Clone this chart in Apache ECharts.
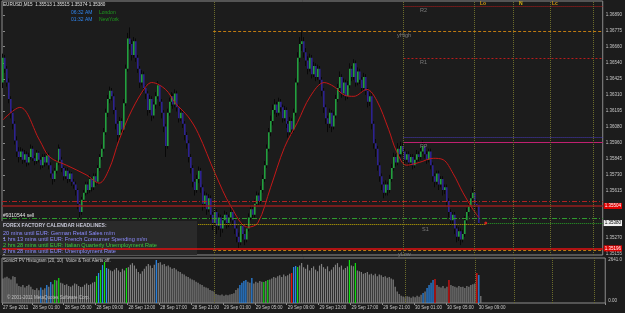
<!DOCTYPE html>
<html>
<head>
<meta charset="utf-8">
<script src="https://cdn.jsdelivr.net/npm/echarts@6/dist/echarts.min.js"></script>
<style>
html, body { margin: 0; padding: 0; background: #1c1c1c; }
#chart { width: 625px; height: 313px; }
</style>
</head>
<body>
<div id="chart"></div>
<script>
// EURUSD M15 candles: [open, close, low, high]
const candles = [
  [1.3640,1.3658,1.3636,1.3661],[1.3658,1.3650,1.3647,1.3660],[1.3650,1.3640,1.3637,1.3652],[1.3640,1.3628,1.3625,1.3643],
  [1.3628,1.3618,1.3614,1.3630],[1.3618,1.3610,1.3606,1.3621],[1.3610,1.3598,1.3595,1.3612],[1.3598,1.3590,1.3586,1.3601],
  [1.3590,1.3586,1.3582,1.3593],[1.3586,1.3590,1.3584,1.3593],[1.3590,1.3584,1.3581,1.3592],[1.3584,1.3588,1.3582,1.3591],
  [1.3588,1.3582,1.3579,1.3590],[1.3582,1.3586,1.3580,1.3589],[1.3586,1.3592,1.3584,1.3595],[1.3592,1.3585,1.3583,1.3594],
  [1.3585,1.3583,1.3580,1.3587],[1.3583,1.3589,1.3581,1.3591],[1.3589,1.3584,1.3582,1.3590],[1.3584,1.3580,1.3577,1.3586],
  [1.3580,1.3586,1.3578,1.3588],[1.3586,1.3582,1.3579,1.3588],[1.3582,1.3587,1.3580,1.3590],[1.3587,1.3580,1.3577,1.3589],
  [1.3580,1.3574,1.3571,1.3582],[1.3574,1.3570,1.3566,1.3576],[1.3570,1.3576,1.3568,1.3578],[1.3576,1.3582,1.3574,1.3584],
  [1.3582,1.3592,1.3580,1.3595],[1.3592,1.3584,1.3582,1.3593],[1.3584,1.3578,1.3575,1.3586],[1.3578,1.3572,1.3569,1.3579],
  [1.3572,1.3576,1.3570,1.3578],[1.3576,1.3570,1.3567,1.3578],[1.3570,1.3574,1.3568,1.3576],[1.3574,1.3568,1.3565,1.3575],
  [1.3568,1.3566,1.3563,1.3570],[1.3566,1.3562,1.3558,1.3568],[1.3562,1.3552,1.3548,1.3563],[1.3552,1.3546,1.3542,1.3554],
  [1.3546,1.3555,1.3544,1.3557],[1.3555,1.3560,1.3553,1.3562],[1.3560,1.3566,1.3558,1.3568],[1.3566,1.3562,1.3559,1.3568],
  [1.3562,1.3570,1.3560,1.3573],[1.3570,1.3564,1.3561,1.3571],[1.3564,1.3572,1.3562,1.3574],[1.3572,1.3568,1.3565,1.3574],
  [1.3568,1.3578,1.3566,1.3580],[1.3578,1.3586,1.3576,1.3588],[1.3586,1.3592,1.3584,1.3595],[1.3592,1.3604,1.3590,1.3607],
  [1.3604,1.3618,1.3602,1.3621],[1.3618,1.3628,1.3615,1.3631],[1.3628,1.3634,1.3625,1.3637],[1.3634,1.3630,1.3627,1.3636],
  [1.3630,1.3620,1.3617,1.3632],[1.3620,1.3610,1.3606,1.3622],[1.3610,1.3602,1.3597,1.3612],[1.3602,1.3612,1.3600,1.3615],
  [1.3612,1.3606,1.3603,1.3614],[1.3606,1.3625,1.3604,1.3628],[1.3625,1.3650,1.3623,1.3653],[1.3650,1.3672,1.3648,1.3676],
  [1.3672,1.3668,1.3664,1.3680],[1.3668,1.3660,1.3656,1.3671],[1.3660,1.3670,1.3658,1.3673],[1.3670,1.3658,1.3655,1.3672],
  [1.3658,1.3650,1.3647,1.3660],[1.3650,1.3640,1.3636,1.3652],[1.3640,1.3646,1.3638,1.3649],[1.3646,1.3636,1.3633,1.3648],
  [1.3636,1.3632,1.3628,1.3638],[1.3632,1.3620,1.3616,1.3634],[1.3620,1.3628,1.3618,1.3631],[1.3628,1.3616,1.3612,1.3630],
  [1.3616,1.3624,1.3614,1.3626],[1.3624,1.3630,1.3621,1.3633],[1.3630,1.3638,1.3628,1.3641],[1.3638,1.3626,1.3623,1.3639],
  [1.3626,1.3618,1.3614,1.3628],[1.3618,1.3608,1.3604,1.3620],[1.3608,1.3594,1.3586,1.3610],[1.3594,1.3618,1.3592,1.3621],
  [1.3618,1.3626,1.3616,1.3629],[1.3626,1.3630,1.3623,1.3633],[1.3630,1.3624,1.3621,1.3632],[1.3624,1.3632,1.3622,1.3635],
  [1.3632,1.3622,1.3619,1.3634],[1.3622,1.3614,1.3611,1.3624],[1.3614,1.3618,1.3612,1.3621],[1.3618,1.3610,1.3607,1.3620],
  [1.3610,1.3602,1.3598,1.3612],[1.3602,1.3596,1.3592,1.3604],[1.3596,1.3586,1.3582,1.3598],[1.3586,1.3578,1.3574,1.3588],
  [1.3578,1.3568,1.3564,1.3580],[1.3568,1.3562,1.3558,1.3570],[1.3562,1.3570,1.3560,1.3573],[1.3570,1.3576,1.3567,1.3579],
  [1.3576,1.3564,1.3560,1.3578],[1.3564,1.3552,1.3547,1.3566],[1.3552,1.3558,1.3549,1.3561],[1.3558,1.3548,1.3544,1.3560],
  [1.3548,1.3556,1.3546,1.3559],[1.3556,1.3544,1.3540,1.3558],[1.3544,1.3538,1.3533,1.3546],[1.3538,1.3546,1.3536,1.3549],
  [1.3546,1.3536,1.3530,1.3548],[1.3536,1.3542,1.3533,1.3545],[1.3542,1.3534,1.3528,1.3544],[1.3534,1.3540,1.3531,1.3543],
  [1.3540,1.3544,1.3537,1.3547],[1.3544,1.3538,1.3534,1.3546],[1.3538,1.3542,1.3535,1.3544],[1.3542,1.3546,1.3539,1.3549],
  [1.3546,1.3540,1.3536,1.3548],[1.3540,1.3534,1.3530,1.3542],[1.3534,1.3528,1.3524,1.3536],[1.3528,1.3524,1.3520,1.3531],
  [1.3524,1.3536,1.3522,1.3538],[1.3536,1.3530,1.3526,1.3538],[1.3530,1.3526,1.3522,1.3532],[1.3526,1.3534,1.3524,1.3537],
  [1.3534,1.3542,1.3532,1.3545],[1.3542,1.3548,1.3540,1.3551],[1.3548,1.3544,1.3541,1.3550],[1.3544,1.3552,1.3542,1.3555],
  [1.3552,1.3558,1.3550,1.3561],[1.3558,1.3554,1.3551,1.3560],[1.3554,1.3562,1.3552,1.3565],[1.3562,1.3570,1.3560,1.3573],
  [1.3570,1.3580,1.3568,1.3583],[1.3580,1.3592,1.3578,1.3595],[1.3592,1.3604,1.3590,1.3607],[1.3604,1.3612,1.3601,1.3616],
  [1.3612,1.3620,1.3609,1.3624],[1.3620,1.3624,1.3617,1.3628],[1.3624,1.3618,1.3615,1.3626],[1.3618,1.3626,1.3616,1.3629],
  [1.3626,1.3622,1.3619,1.3628],[1.3622,1.3614,1.3611,1.3624],[1.3614,1.3620,1.3612,1.3623],[1.3620,1.3610,1.3607,1.3622],
  [1.3610,1.3604,1.3600,1.3612],[1.3604,1.3612,1.3602,1.3615],[1.3612,1.3606,1.3602,1.3614],[1.3606,1.3618,1.3604,1.3621],
  [1.3618,1.3640,1.3616,1.3643],[1.3640,1.3658,1.3638,1.3662],[1.3658,1.3668,1.3655,1.3673],[1.3668,1.3670,1.3663,1.3678],
  [1.3670,1.3662,1.3658,1.3673],[1.3662,1.3656,1.3652,1.3665],[1.3656,1.3650,1.3646,1.3659],[1.3650,1.3658,1.3648,1.3661],
  [1.3658,1.3646,1.3643,1.3660],[1.3646,1.3652,1.3644,1.3655],[1.3652,1.3644,1.3641,1.3654],[1.3644,1.3650,1.3642,1.3653],
  [1.3650,1.3642,1.3639,1.3652],[1.3642,1.3634,1.3630,1.3644],[1.3634,1.3622,1.3618,1.3636],[1.3622,1.3614,1.3610,1.3624],
  [1.3614,1.3610,1.3604,1.3616],[1.3610,1.3618,1.3607,1.3621],[1.3618,1.3608,1.3604,1.3620],[1.3608,1.3616,1.3606,1.3619],
  [1.3616,1.3628,1.3614,1.3631],[1.3628,1.3636,1.3626,1.3639],[1.3636,1.3644,1.3633,1.3648],[1.3644,1.3632,1.3629,1.3646],
  [1.3632,1.3640,1.3630,1.3643],[1.3640,1.3630,1.3627,1.3642],[1.3630,1.3638,1.3628,1.3641],[1.3638,1.3650,1.3636,1.3654],
  [1.3650,1.3644,1.3641,1.3652],[1.3644,1.3654,1.3642,1.3657],[1.3654,1.3640,1.3637,1.3656],[1.3640,1.3648,1.3638,1.3651],
  [1.3648,1.3642,1.3639,1.3650],[1.3642,1.3636,1.3633,1.3644],[1.3636,1.3644,1.3634,1.3647],[1.3644,1.3634,1.3631,1.3646],
  [1.3634,1.3626,1.3622,1.3636],[1.3626,1.3630,1.3623,1.3633],[1.3630,1.3610,1.3606,1.3632],[1.3610,1.3596,1.3592,1.3612],
  [1.3596,1.3592,1.3586,1.3599],[1.3592,1.3580,1.3576,1.3594],[1.3580,1.3572,1.3568,1.3582],[1.3572,1.3566,1.3562,1.3574],
  [1.3566,1.3560,1.3556,1.3568],[1.3560,1.3566,1.3558,1.3569],[1.3566,1.3562,1.3558,1.3568],[1.3562,1.3570,1.3560,1.3573],
  [1.3570,1.3578,1.3568,1.3581],[1.3578,1.3586,1.3576,1.3589],[1.3586,1.3582,1.3579,1.3588],[1.3582,1.3592,1.3580,1.3596],
  [1.3592,1.3588,1.3585,1.3594],[1.3588,1.3594,1.3586,1.3597],[1.3594,1.3590,1.3587,1.3596],[1.3590,1.3584,1.3581,1.3592],
  [1.3584,1.3588,1.3582,1.3590],[1.3588,1.3582,1.3579,1.3590],[1.3582,1.3586,1.3580,1.3588],[1.3586,1.3580,1.3577,1.3588],
  [1.3580,1.3584,1.3578,1.3587],[1.3584,1.3588,1.3582,1.3591],[1.3588,1.3586,1.3583,1.3590],[1.3586,1.3590,1.3584,1.3593],
  [1.3590,1.3594,1.3588,1.3598],[1.3594,1.3588,1.3585,1.3596],[1.3588,1.3584,1.3581,1.3590],[1.3584,1.3590,1.3582,1.3592],
  [1.3590,1.3580,1.3577,1.3592],[1.3580,1.3572,1.3568,1.3582],[1.3572,1.3568,1.3564,1.3574],[1.3568,1.3574,1.3566,1.3576],
  [1.3574,1.3566,1.3562,1.3576],[1.3566,1.3570,1.3564,1.3572],[1.3570,1.3562,1.3558,1.3572],[1.3562,1.3564,1.3559,1.3566],
  [1.3564,1.3554,1.3550,1.3566],[1.3554,1.3546,1.3542,1.3556],[1.3546,1.3540,1.3536,1.3548],[1.3540,1.3544,1.3537,1.3546],
  [1.3544,1.3534,1.3530,1.3546],[1.3534,1.3528,1.3524,1.3536],[1.3528,1.3532,1.3525,1.3535],[1.3532,1.3526,1.3522,1.3534],
  [1.3526,1.3530,1.3524,1.3533],[1.3530,1.3540,1.3528,1.3543],[1.3540,1.3546,1.3538,1.3549],[1.3546,1.3550,1.3543,1.3554],
  [1.3550,1.3556,1.3548,1.3560],[1.3556,1.3560,1.3554,1.3564],[1.3560,1.3552,1.3549,1.3562],[1.3552,1.3551,1.3547,1.3555],
  [1.35513,1.35380,1.35374,1.35515]
];

// 移動平均線（赤）: [bar, price]
const maPoints = [
  [0,1.3613],[8.5,1.3622],[18.5,1.3598],[23.5,1.3586],[32,1.3580],[42,1.3573],[48.5,1.3567],[53.5,1.3577],
  [58.5,1.3598],[65,1.3620],[72,1.3637],[75,1.3640],[82,1.3635],[87,1.3625],[93.5,1.3615],[98.5,1.3603],
  [107,1.3574],[115,1.3550],[123.5,1.3535],[128.5,1.3538],[135,1.3564],[142,1.3593],[148.5,1.3611],[155,1.3630],
  [162,1.3640],[167,1.3637],[172,1.3631],[177,1.3630],[183.5,1.3635],[188.5,1.3627],[194.5,1.3606],[198.5,1.3590],
  [203.5,1.3580],[210,1.3582],[217,1.3585],[222,1.3584],[227,1.3574],[232,1.3560],[237,1.3548],[240,1.3542]
];

// SonicR PV Histogram
const histValues = [
  1500,1560,1620,1520,1450,1650,1600,1200,1050,1000,
  1100,950,1050,1120,1000,850,800,900,780,950,
  820,900,1100,1000,1290,1150,1410,1380,1535,1250,
  1200,1100,1150,1050,1000,1080,1200,1150,1050,980,
  1000,1120,1200,1100,1150,1250,1300,1660,1840,2025,
  2330,2520,2150,2100,2000,1950,2050,2150,2000,1900,
  2100,2000,2150,2200,2350,2450,2300,2100,1900,1800,
  1950,2100,2250,2400,2300,2150,2350,2641,2450,2500,
  2350,2400,2250,2300,2200,2100,2150,2050,1950,1900,
  1800,1750,1650,1600,1500,1450,1400,1300,1250,1150,
  1100,1000,950,900,800,750,700,550,500,480,
  520,450,500,470,520,560,600,800,900,1100,
  1250,1350,1410,1300,1250,1535,1200,1300,1250,1350,
  1300,1290,1350,1410,1450,1500,1600,1550,1650,1700,
  1600,1750,1650,1700,1800,1840,2210,2270,2210,2300,
  2450,2200,2100,2350,2000,2150,2250,2050,1950,2300,
  2400,2200,2100,2250,1950,2050,2200,2350,2450,2200,
  2300,2050,2150,2250,2641,2300,2250,2456,2000,1950,
  1900,1800,1850,1900,1750,1800,1700,1800,1650,1750,
  1700,1600,1650,1550,1600,1500,1450,1000,700,550,
  450,400,350,420,380,320,400,350,450,380,
  500,614,700,920,1100,1250,1410,1470,1100,1000,
  950,1050,900,1000,1410,1100,1050,1000,950,1050,
  980,1000,920,1050,1000,1100,1150,1200,1840,1720,
  430
];
const blueBars = [19,22,24,48,50,52,77,119,120,121,122,125,146,147,211,213,214,215,216,239];
const greenBars = [26,28,47,49,51,62,131,133,148,174,177];
const redBars = [145,217,224,238];

// 価格軸・時間軸の目盛り
const priceTicks = [1.36890,1.36775,1.36660,1.36540,1.36425,1.36310,1.36195,1.36080,1.35960,1.35845,1.35730,1.35615,1.35270,1.35155];
const histTicks = [0, 2641];
const timeLabels = ['27 Sep 2011','28 Sep 01:00','28 Sep 05:00','28 Sep 09:00','28 Sep 13:00','28 Sep 17:00','28 Sep 21:00',
  '29 Sep 01:00','29 Sep 05:00','29 Sep 09:00','29 Sep 13:00','29 Sep 17:00','29 Sep 21:00','30 Sep 01:00','30 Sep 05:00','30 Sep 09:00'];
const timeLabelBars = [0,15,31,47,63,79,95,111,127,143,159,175,191,207,223,239];

// 水平ライン
const levelR2 = 1.36952;
const levelYHigh = 1.36775;
const levelR1 = 1.36578;
const levelPPBand = 1.36002;
const levelPP = 1.35969;
const levelRedDash = 1.35541;
const orderPrice = 1.35504;
const levelGreenDash = 1.35417;
const levelS1 = 1.35374;
const bidPrice = 1.35380;
const levelRedLow = 1.35196;
const levelYLow = 1.35181;
// 縦ライン（日付・セッション）
const sessionBars = [106.5, 202, 237.5, 257.5, 276, 297.5];

const barCount = 303;
const lastX = barCount - 0.5;
const font = 'Liberation Sans';
const bullColor = '#22a03e';
const bearColor = '#2d2290';
const wickColor = '#080808';

const chart = echarts.init(document.getElementById('chart'));

const categories = Array.from({ length: barCount }, (_, i) => String(i));
const labelAt = {};
timeLabelBars.forEach((b, k) => { labelAt[b] = timeLabels[k]; });

function barColor(i) {
  if (blueBars.includes(i)) return '#2b8cf0';
  if (greenBars.includes(i)) return '#10e010';
  if (redBars.includes(i)) return '#f01010';
  return '#808080';
}

function renderCandle(params, api) {
  const i = api.value(0);
  const o = api.coord([i, api.value(1)]);
  const c = api.coord([i, api.value(2)]);
  const l = api.coord([i, api.value(3)]);
  const h = api.coord([i, api.value(4)]);
  const x = Math.round(o[0]);
  const up = api.value(2) >= api.value(1);
  return {
    type: 'group',
    children: [
      { type: 'line', shape: { x1: x - 0.5, y1: h[1], x2: x - 0.5, y2: l[1] }, style: { stroke: wickColor, lineWidth: 1 } },
      { type: 'rect', shape: { x: x - 1, y: Math.min(o[1], c[1]), width: 1.6, height: Math.max(1, Math.abs(o[1] - c[1])) },
        style: { fill: up ? bullColor : bearColor } }
    ]
  };
}

function tag(text, bg, fg) {
  return { show: true, position: 'end', distance: 1, formatter: text, color: fg, backgroundColor: bg,
    padding: [1, 1, 0, 1], fontSize: 4.5, fontFamily: font };
}

// 2点で指定する水平ライン
function seg(from, to, price, lineStyle, label) {
  const a = { coord: [from, price], lineStyle };
  const b = { coord: [to, price], lineStyle };
  if (label) { a.label = label; b.label = label; }
  return [a, b];
}

const olive = { color: '#6c6c2c', type: 'dotted', width: 1 };

const mainLines = [
  seg(202, lastX, levelR2, { color: '#b81c1c', type: 'dotted', width: 1 }),
  seg(106, lastX, levelYHigh, { color: '#c07a10', type: [3, 2], width: 1 }),
  seg(202, lastX, levelR1, { color: '#b81c1c', type: [2, 2], width: 1 }),
  seg(202, lastX, levelPPBand, { color: '#4a3cc0', type: 'dotted', width: 1 }),
  seg(202, lastX, levelPP, { color: '#c02070', type: 'solid', width: 1 }),
  seg(-0.5, lastX, levelRedDash, { color: '#b02020', type: [5, 2, 1, 2], width: 1 }),
  seg(-0.5, lastX, orderPrice, { color: '#941c1c', type: 'solid', width: 1.5 }, tag('1.35504', '#e00000', '#ffffff')),
  seg(-0.5, lastX, levelGreenDash, { color: '#2e9a2e', type: [5, 2, 1, 2], width: 1 }),
  seg(98.5, 243.5, levelS1, { color: '#c8b000', type: 'dotted', width: 1 }),
  seg(243.5, lastX, bidPrice, { color: '#28a028', type: 'dotted', width: 1 }, tag('1.35380', '#f0f0f0', '#000000')),
  seg(-0.5, lastX, levelRedLow, { color: '#e01010', type: 'solid', width: 1.5 }, tag('1.35196', '#e00000', '#ffffff')),
  seg(106, lastX, levelYLow, { color: '#c07a10', type: [3, 2], width: 1 })
].concat(sessionBars.map(b => ({ xAxis: b, lineStyle: olive })));

const small = (text, x, y, color, size, weight) => ({
  type: 'text', x, y, z: 100,
  style: { text, fill: color, fontSize: size || 5, fontFamily: font, fontWeight: weight || 'normal', verticalAlign: 'middle' }
});

const option = {
  backgroundColor: '#1c1c1c',
  animation: false,
  textStyle: { fontFamily: font },
  grid: [
    { left: 2, right: 17, top: 1, bottom: 58, show: true, borderColor: '#8c8c8c', borderWidth: 1 },
    { left: 2, right: 17, top: 258, bottom: 10, show: true, borderColor: '#8c8c8c', borderWidth: 1 }
  ],
  xAxis: [
    { type: 'value', gridIndex: 0, min: -0.5, max: lastX, show: false },
    {
      type: 'category', gridIndex: 1, data: categories, boundaryGap: true,
      axisLine: { show: false },
      axisTick: { show: true, interval: i => labelAt[i] !== undefined, length: 2, lineStyle: { color: '#8c8c8c' } },
      axisLabel: { interval: i => labelAt[i] !== undefined, formatter: (v, i) => labelAt[i] || '',
        fontSize: 4.5, color: '#c8c8c8', align: 'left', margin: 2 },
      splitLine: { show: false }
    }
  ],
  yAxis: [
    {
      type: 'value', gridIndex: 0, position: 'right', min: 1.35148, max: 1.36992,
      axisLine: { show: false }, splitLine: { show: false },
      axisTick: { show: true, customValues: priceTicks, length: 2, lineStyle: { color: '#8c8c8c' } },
      axisLabel: { customValues: priceTicks, formatter: v => v.toFixed(5), fontSize: 4.5, color: '#c8c8c8', margin: 3 }
    },
    {
      type: 'value', gridIndex: 1, position: 'right', min: 0, max: 2764,
      axisLine: { show: false }, splitLine: { show: false }, axisTick: { show: false },
      axisLabel: { customValues: histTicks, formatter: v => (v === 0 ? '{z|0.00}' : v.toFixed(1)),
        fontSize: 4.5, color: '#c8c8c8', margin: 3, rich: { z: { fontSize: 4.5, padding: [0, 0, 4, 0] } } }
    }
  ],
  series: [
    {
      name: 'levels', type: 'line', xAxisIndex: 0, yAxisIndex: 0, data: [[0, null]], symbol: 'none', z: 1,
      markLine: { symbol: ['none', 'none'], silent: true, animation: false, label: { show: false }, data: mainLines }
    },
    {
      name: 'EURUSD', type: 'custom', xAxisIndex: 0, yAxisIndex: 0, z: 3,
      renderItem: renderCandle,
      data: candles.map((r, i) => [i, r[0], r[1], r[2], r[3]])
    },
    {
      name: 'MA', type: 'line', xAxisIndex: 0, yAxisIndex: 0, data: maPoints, smooth: 0.35,
      symbol: 'none', z: 4, lineStyle: { color: '#c41818', width: 1 }
    },
    {
      name: 'bid', type: 'scatter', xAxisIndex: 0, yAxisIndex: 0, data: [[243.5, bidPrice]],
      symbolSize: 3, z: 5, itemStyle: { color: '#ff2020' }
    },
    {
      name: 'PV', type: 'bar', xAxisIndex: 1, yAxisIndex: 1, barWidth: 1.2,
      data: histValues.map((v, i) => ({ value: v, itemStyle: { color: barColor(i) } })),
      markLine: { symbol: ['none', 'none'], silent: true, animation: false, label: { show: false },
        data: sessionBars.map(b => ({ xAxis: String(Math.floor(b)), lineStyle: olive })) }
    }
  ],
  graphic: [
    { type: 'rect', shape: { x: 0, y: 221, width: 197, height: 34 }, style: { fill: '#2a2a2a' }, z: 0 },
    small('EURUSD,M15  1.35513 1.35515 1.35374 1.35380', 3, 5, '#e0e0e0', 4.6),
    small('06:32 AM', 71, 13, '#2f86f0', 5),
    small('London', 99, 13, '#1e9a1e', 5),
    small('01:32 AM', 71, 20, '#2f86f0', 5),
    small('NewYork', 99, 20, '#1e9a1e', 5),
    small('R2', 420, 10, '#7c7c7c', 5.5),
    small('yHigh', 397, 35, '#7c7c7c', 5.5),
    small('R1', 420, 62, '#7c7c7c', 5.5),
    small('PP', 420, 146, '#7c7c7c', 5.5),
    small('S1', 422, 229, '#7c7c7c', 5.5),
    small('yLow', 398, 254, '#7c7c7c', 5.5),
    small('Lo', 480, 4, '#d49a10', 5, 'bold'),
    small('N', 519, 4, '#d4b010', 5, 'bold'),
    small('Lc', 552, 4, '#d49a10', 5, 'bold'),
    small('#9310544 sell', 3, 216, '#e8e8e8', 5),
    small('FOREX FACTORY CALENDAR HEADLINES:', 3, 226, '#c4c4d4', 5, 'bold'),
    small('20 mins until EUR: German Retail Sales m/m', 3, 233, '#8c8cff', 5.6),
    small('1 hrs 13 mins until EUR: French Consumer Spending m/m', 3, 239, '#8c8cff', 5.6),
    small('2 hrs 28 mins until EUR: Italian Quarterly Unemployment Rate', 3, 245, '#3cc83c', 5.6),
    small('3 hrs 28 mins until EUR: Unemployment Rate', 3, 251, '#8c8cff', 5.6),
    small('SonicR PV Histogram (20, 10)  Voice & Text Alerts off.', 3, 261, '#c8c8c8', 4.5),
    small('\u00a9 2001-2011 MetaQuotes Software Corp.', 7, 298, '#c0c0c0', 4.5)
  ]
};

chart.setOption(option);
</script>
</body>
</html>
